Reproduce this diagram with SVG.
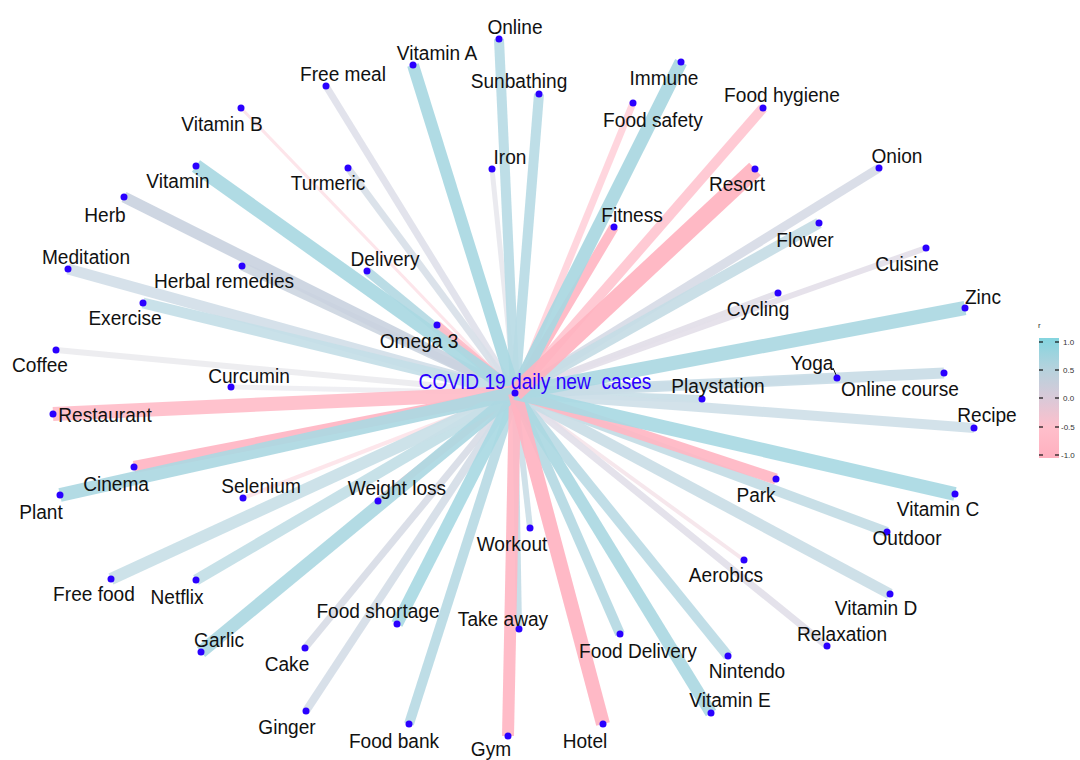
<svg xmlns="http://www.w3.org/2000/svg" width="1080" height="760" viewBox="0 0 1080 760">
<defs>
<linearGradient id="lg" x1="0" y1="0" x2="0" y2="1">
<stop offset="0" stop-color="#84d5df"/>
<stop offset="0.25" stop-color="#b4d2dd"/>
<stop offset="0.5" stop-color="#d9c9d8"/>
<stop offset="0.75" stop-color="#ffbfcb"/>
<stop offset="1" stop-color="#ffb0bf"/>
</linearGradient>
<style>
.e{stroke-linecap:butt;fill:none;opacity:0.92}
.d{fill:#2a00ff}
.t{font-family:"Liberation Sans",Arial,Helvetica,sans-serif;font-size:21px;fill:#111;text-anchor:middle;transform-box:fill-box;transform-origin:center;transform:scaleX(0.91)}
.ti{font-family:"Liberation Sans",Arial,Helvetica,sans-serif;font-size:21.5px;fill:#2a00ff;text-anchor:middle;white-space:pre;transform-box:fill-box;transform-origin:center;transform:scaleX(0.89)}
.lt{font-family:"Liberation Sans",Arial,Helvetica,sans-serif;font-size:8px;fill:#333}
.tk{stroke:#111;stroke-width:1.2}
</style>
</defs>
<rect width="1080" height="760" fill="#fff"/>
<g id="connectors">
<line class="e" x1="515" y1="393" x2="241" y2="108" stroke="#fde3e8" stroke-width="3"/>
<line class="e" x1="515" y1="393" x2="243" y2="498" stroke="#fde4e9" stroke-width="4"/>
<line class="e" x1="515" y1="393" x2="744" y2="560" stroke="#f5e5ea" stroke-width="4"/>
<line class="e" x1="515" y1="393" x2="492" y2="169" stroke="#e8e8ee" stroke-width="5"/>
<line class="e" x1="515" y1="393" x2="231" y2="387" stroke="#eeeef2" stroke-width="5"/>
<line class="e" x1="515" y1="393" x2="56" y2="350" stroke="#ebebef" stroke-width="6"/>
<line class="e" x1="515" y1="393" x2="519" y2="629" stroke="#c3dce6" stroke-width="6"/>
<line class="e" x1="515" y1="393" x2="530" y2="528" stroke="#cbdee7" stroke-width="6"/>
<line class="e" x1="515" y1="393" x2="778" y2="293" stroke="#e2dee8" stroke-width="6"/>
<line class="e" x1="515" y1="393" x2="926" y2="248" stroke="#e4dfe9" stroke-width="6"/>
<line class="e" x1="515" y1="393" x2="326" y2="86" stroke="#e0e1ea" stroke-width="7"/>
<line class="e" x1="515" y1="393" x2="348" y2="168" stroke="#d8dfe8" stroke-width="7"/>
<line class="e" x1="515" y1="393" x2="378" y2="501" stroke="#ffbfca" stroke-width="7"/>
<line class="e" x1="515" y1="393" x2="305" y2="648" stroke="#d8dce6" stroke-width="7"/>
<line class="e" x1="515" y1="393" x2="827" y2="646" stroke="#e2e0e9" stroke-width="7"/>
<line class="e" x1="515" y1="393" x2="633" y2="103" stroke="#ffd3db" stroke-width="7"/>
<line class="e" x1="515" y1="393" x2="306" y2="711" stroke="#d5dde7" stroke-width="8"/>
<line class="e" x1="515" y1="393" x2="702" y2="399" stroke="#c9dee7" stroke-width="8"/>
<line class="e" x1="515" y1="393" x2="837" y2="378" stroke="#cddde6" stroke-width="8"/>
<line class="e" x1="515" y1="393" x2="367" y2="271" stroke="#b4d9e3" stroke-width="9"/>
<line class="e" x1="515" y1="393" x2="242" y2="266" stroke="#cdd6e1" stroke-width="9"/>
<line class="e" x1="515" y1="393" x2="437" y2="325" stroke="#ffbcc8" stroke-width="9"/>
<line class="e" x1="515" y1="393" x2="879" y2="168" stroke="#d7dbe6" stroke-width="9"/>
<line class="e" x1="515" y1="393" x2="499" y2="39" stroke="#b9dbe5" stroke-width="10"/>
<line class="e" x1="515" y1="393" x2="539" y2="94" stroke="#b8dbe5" stroke-width="10"/>
<line class="e" x1="515" y1="393" x2="409" y2="724" stroke="#b9dae4" stroke-width="10"/>
<line class="e" x1="515" y1="393" x2="620" y2="634" stroke="#b5d9e3" stroke-width="10"/>
<line class="e" x1="515" y1="393" x2="728" y2="656" stroke="#bcdbe5" stroke-width="10"/>
<line class="e" x1="515" y1="393" x2="887" y2="532" stroke="#c3dce5" stroke-width="10"/>
<line class="e" x1="515" y1="393" x2="974" y2="428" stroke="#cfe0e8" stroke-width="10"/>
<line class="e" x1="515" y1="393" x2="614" y2="227" stroke="#ffb6c3" stroke-width="10"/>
<line class="e" x1="515" y1="393" x2="763" y2="108" stroke="#ffc6d0" stroke-width="10"/>
<line class="e" x1="515" y1="393" x2="124" y2="197" stroke="#cad3df" stroke-width="11"/>
<line class="e" x1="515" y1="393" x2="68" y2="269" stroke="#d3dee8" stroke-width="11"/>
<line class="e" x1="515" y1="393" x2="143" y2="303" stroke="#c4dee7" stroke-width="11"/>
<line class="e" x1="515" y1="393" x2="196" y2="580" stroke="#c2dee6" stroke-width="11"/>
<line class="e" x1="515" y1="393" x2="890" y2="594" stroke="#cadde6" stroke-width="11"/>
<line class="e" x1="515" y1="393" x2="776" y2="479" stroke="#ffb6c3" stroke-width="11"/>
<line class="e" x1="515" y1="393" x2="944" y2="373" stroke="#c9dce6" stroke-width="11"/>
<line class="e" x1="515" y1="393" x2="819" y2="223" stroke="#c5dce5" stroke-width="11"/>
<line class="e" x1="515" y1="393" x2="413" y2="65" stroke="#a9d8e2" stroke-width="12"/>
<line class="e" x1="515" y1="393" x2="134" y2="467" stroke="#ffb5c3" stroke-width="12"/>
<line class="e" x1="515" y1="393" x2="111" y2="579" stroke="#c9dfe7" stroke-width="12"/>
<line class="e" x1="515" y1="393" x2="397" y2="624" stroke="#a9d9e3" stroke-width="12"/>
<line class="e" x1="515" y1="393" x2="508" y2="736" stroke="#ffb6c3" stroke-width="12"/>
<line class="e" x1="515" y1="393" x2="711" y2="713" stroke="#abd8e2" stroke-width="12"/>
<line class="e" x1="515" y1="393" x2="201" y2="652" stroke="#acd8e2" stroke-width="13"/>
<line class="e" x1="515" y1="393" x2="681" y2="62" stroke="#a9d7e1" stroke-width="13"/>
<line class="e" x1="515" y1="393" x2="196" y2="166" stroke="#a9d8e2" stroke-width="14"/>
<line class="e" x1="515" y1="393" x2="53" y2="414" stroke="#ffbdc9" stroke-width="14"/>
<line class="e" x1="515" y1="393" x2="60" y2="495" stroke="#acd8e2" stroke-width="14"/>
<line class="e" x1="515" y1="393" x2="603" y2="724" stroke="#ffb3c1" stroke-width="14"/>
<line class="e" x1="515" y1="393" x2="955" y2="494" stroke="#a9d9e3" stroke-width="14"/>
<line class="e" x1="515" y1="393" x2="965" y2="308" stroke="#abd8e2" stroke-width="14"/>
<line class="e" x1="515" y1="393" x2="755" y2="169" stroke="#ffb3c0" stroke-width="17"/>
<line x1="833" y1="368" x2="837" y2="377" stroke="#111" stroke-width="1"/>
</g>
<g id="n-online"><circle class="d" cx="499" cy="39" r="3.5"/><text class="t" x="515" y="34">Online</text></g>
<g id="n-vitamin-a"><circle class="d" cx="413" cy="65" r="3.5"/><text class="t" x="437" y="60">Vitamin A</text></g>
<g id="n-sunbathing"><circle class="d" cx="539" cy="94" r="3.5"/><text class="t" x="519" y="88">Sunbathing</text></g>
<g id="n-iron"><circle class="d" cx="492" cy="169" r="3.5"/><text class="t" x="510" y="164">Iron</text></g>
<g id="n-free-meal"><circle class="d" cx="326" cy="86" r="3.5"/><text class="t" x="343" y="81">Free meal</text></g>
<g id="n-vitamin-b"><circle class="d" cx="241" cy="108" r="3.5"/><text class="t" x="222" y="131">Vitamin B</text></g>
<g id="n-vitamin"><circle class="d" cx="196" cy="166" r="3.5"/><text class="t" x="178" y="188">Vitamin</text></g>
<g id="n-turmeric"><circle class="d" cx="348" cy="168" r="3.5"/><text class="t" x="328" y="190">Turmeric</text></g>
<g id="n-herb"><circle class="d" cx="124" cy="197" r="3.5"/><text class="t" x="105" y="222">Herb</text></g>
<g id="n-delivery"><circle class="d" cx="367" cy="271" r="3.5"/><text class="t" x="385" y="266">Delivery</text></g>
<g id="n-meditation"><circle class="d" cx="68" cy="269" r="3.5"/><text class="t" x="86" y="264">Meditation</text></g>
<g id="n-herbal-remedies"><circle class="d" cx="242" cy="266" r="3.5"/><text class="t" x="224" y="288">Herbal remedies</text></g>
<g id="n-exercise"><circle class="d" cx="143" cy="303" r="3.5"/><text class="t" x="125" y="325">Exercise</text></g>
<g id="n-omega-3"><circle class="d" cx="437" cy="325" r="3.5"/><text class="t" x="419" y="348">Omega 3</text></g>
<g id="n-coffee"><circle class="d" cx="56" cy="350" r="3.5"/><text class="t" x="40" y="372">Coffee</text></g>
<g id="n-curcumin"><circle class="d" cx="231" cy="387" r="3.5"/><text class="t" x="249" y="383">Curcumin</text></g>
<g id="n-restaurant"><circle class="d" cx="53" cy="414" r="3.5"/><text class="t" x="105" y="422">Restaurant</text></g>
<g id="n-cinema"><circle class="d" cx="134" cy="467" r="3.5"/><text class="t" x="116" y="491">Cinema</text></g>
<g id="n-plant"><circle class="d" cx="60" cy="495" r="3.5"/><text class="t" x="41" y="519">Plant</text></g>
<g id="n-selenium"><circle class="d" cx="243" cy="498" r="3.5"/><text class="t" x="261" y="493">Selenium</text></g>
<g id="n-weight-loss"><circle class="d" cx="378" cy="501" r="3.5"/><text class="t" x="397" y="495">Weight loss</text></g>
<g id="n-free-food"><circle class="d" cx="111" cy="579" r="3.5"/><text class="t" x="94" y="601">Free food</text></g>
<g id="n-netflix"><circle class="d" cx="196" cy="580" r="3.5"/><text class="t" x="177" y="604">Netflix</text></g>
<g id="n-garlic"><circle class="d" cx="201" cy="652" r="3.5"/><text class="t" x="219" y="647">Garlic</text></g>
<g id="n-food-shortage"><circle class="d" cx="397" cy="624" r="3.5"/><text class="t" x="378" y="618">Food shortage</text></g>
<g id="n-cake"><circle class="d" cx="305" cy="648" r="3.5"/><text class="t" x="287" y="671">Cake</text></g>
<g id="n-ginger"><circle class="d" cx="306" cy="711" r="3.5"/><text class="t" x="287" y="734">Ginger</text></g>
<g id="n-food-bank"><circle class="d" cx="409" cy="724" r="3.5"/><text class="t" x="394" y="748">Food bank</text></g>
<g id="n-gym"><circle class="d" cx="508" cy="736" r="3.5"/><text class="t" x="491" y="756">Gym</text></g>
<g id="n-take-away"><circle class="d" cx="519" cy="629" r="3.5"/><text class="t" x="503" y="626">Take away</text></g>
<g id="n-workout"><circle class="d" cx="530" cy="528" r="3.5"/><text class="t" x="512" y="551">Workout</text></g>
<g id="n-hotel"><circle class="d" cx="603" cy="724" r="3.5"/><text class="t" x="585" y="748">Hotel</text></g>
<g id="n-food-delivery"><circle class="d" cx="620" cy="634" r="3.5"/><text class="t" x="638" y="658">Food Delivery</text></g>
<g id="n-nintendo"><circle class="d" cx="728" cy="656" r="3.5"/><text class="t" x="747" y="678">Nintendo</text></g>
<g id="n-vitamin-e"><circle class="d" cx="711" cy="713" r="3.5"/><text class="t" x="730" y="707">Vitamin E</text></g>
<g id="n-relaxation"><circle class="d" cx="827" cy="646" r="3.5"/><text class="t" x="842" y="641">Relaxation</text></g>
<g id="n-aerobics"><circle class="d" cx="744" cy="560" r="3.5"/><text class="t" x="726" y="582">Aerobics</text></g>
<g id="n-vitamin-d"><circle class="d" cx="890" cy="594" r="3.5"/><text class="t" x="876" y="615">Vitamin D</text></g>
<g id="n-outdoor"><circle class="d" cx="887" cy="532" r="3.5"/><text class="t" x="907" y="545">Outdoor</text></g>
<g id="n-vitamin-c"><circle class="d" cx="955" cy="494" r="3.5"/><text class="t" x="938" y="516">Vitamin C</text></g>
<g id="n-park"><circle class="d" cx="776" cy="479" r="3.5"/><text class="t" x="756" y="502">Park</text></g>
<g id="n-recipe"><circle class="d" cx="974" cy="428" r="3.5"/><text class="t" x="987" y="422">Recipe</text></g>
<g id="n-playstation"><circle class="d" cx="702" cy="399" r="3.5"/><text class="t" x="718" y="393">Playstation</text></g>
<g id="n-online-course"><circle class="d" cx="944" cy="373" r="3.5"/><text class="t" x="900" y="396">Online course</text></g>
<g id="n-yoga"><circle class="d" cx="837" cy="378" r="3.5"/><text class="t" x="812" y="370">Yoga</text></g>
<g id="n-zinc"><circle class="d" cx="965" cy="308" r="3.5"/><text class="t" x="983" y="304">Zinc</text></g>
<g id="n-cycling"><circle class="d" cx="778" cy="293" r="3.5"/><text class="t" x="758" y="316">Cycling</text></g>
<g id="n-cuisine"><circle class="d" cx="926" cy="248" r="3.5"/><text class="t" x="907" y="271">Cuisine</text></g>
<g id="n-flower"><circle class="d" cx="819" cy="223" r="3.5"/><text class="t" x="805" y="247">Flower</text></g>
<g id="n-onion"><circle class="d" cx="879" cy="168" r="3.5"/><text class="t" x="897" y="163">Onion</text></g>
<g id="n-fitness"><circle class="d" cx="614" cy="227" r="3.5"/><text class="t" x="632" y="222">Fitness</text></g>
<g id="n-resort"><circle class="d" cx="755" cy="169" r="3.5"/><text class="t" x="737" y="191">Resort</text></g>
<g id="n-food-hygiene"><circle class="d" cx="763" cy="108" r="3.5"/><text class="t" x="782" y="102">Food hygiene</text></g>
<g id="n-food-safety"><circle class="d" cx="633" cy="103" r="3.5"/><text class="t" x="653" y="127">Food safety</text></g>
<g id="n-immune"><circle class="d" cx="681" cy="62" r="3.5"/><text class="t" x="664" y="85">Immune</text></g>
<g id="n-center"><circle class="d" cx="515" cy="393" r="3.5"/><text class="ti" x="535" y="389">COVID 19 daily new  cases</text></g>
<g id="legend">
<text class="lt" x="1038" y="328">r</text>
<rect x="1039" y="338" width="20" height="120" fill="url(#lg)"/>
<line class="tk" x1="1039" y1="342" x2="1043" y2="342"/><line class="tk" x1="1055" y1="342" x2="1059" y2="342"/>
<line class="tk" x1="1039" y1="370" x2="1043" y2="370"/><line class="tk" x1="1055" y1="370" x2="1059" y2="370"/>
<line class="tk" x1="1039" y1="398" x2="1043" y2="398"/><line class="tk" x1="1055" y1="398" x2="1059" y2="398"/>
<line class="tk" x1="1039" y1="427" x2="1043" y2="427"/><line class="tk" x1="1055" y1="427" x2="1059" y2="427"/>
<line class="tk" x1="1039" y1="455" x2="1043" y2="455"/><line class="tk" x1="1055" y1="455" x2="1059" y2="455"/>
<text class="lt" x="1063" y="345">1.0</text>
<text class="lt" x="1063" y="373">0.5</text>
<text class="lt" x="1063" y="401">0.0</text>
<text class="lt" x="1061" y="430">-0.5</text>
<text class="lt" x="1061" y="458">-1.0</text>
</g>
</svg>
